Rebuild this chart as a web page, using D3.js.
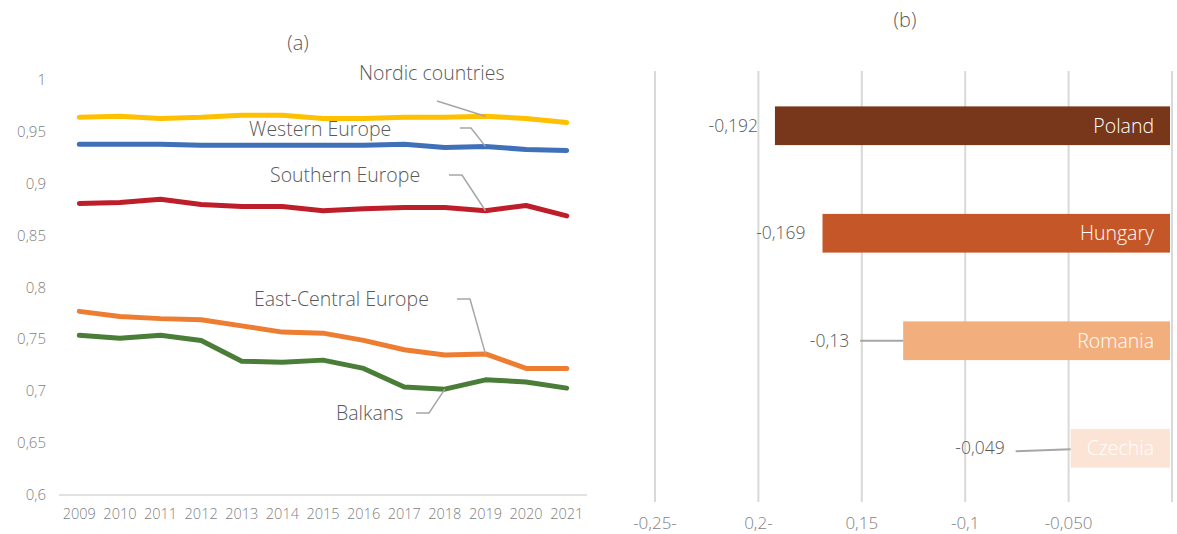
<!DOCTYPE html>
<html>
<head>
<meta charset="utf-8">
<script src="https://cdn.jsdelivr.net/npm/d3@7"></script>
<style>
body { margin: 0; background: #fff; }
text { font-family: "Open Sans", sans-serif; font-weight: 300; }
</style>
</head>
<body>
<div id="chart"></div>
<script>
// panel (a) data
var years = [2009, 2010, 2011, 2012, 2013, 2014, 2015, 2016, 2017, 2018, 2019, 2020, 2021];
var nordic = [0.964, 0.965, 0.963, 0.964, 0.966, 0.966, 0.963, 0.963, 0.964, 0.964, 0.965, 0.963, 0.959];
var western = [0.938, 0.938, 0.938, 0.937, 0.937, 0.937, 0.937, 0.937, 0.938, 0.935, 0.936, 0.933, 0.932];
var southern = [0.881, 0.882, 0.885, 0.880, 0.878, 0.878, 0.874, 0.876, 0.877, 0.877, 0.874, 0.879, 0.869];
var eastCentral = [0.777, 0.772, 0.770, 0.769, 0.763, 0.757, 0.756, 0.749, 0.740, 0.735, 0.736, 0.722, 0.722];
var balkans = [0.754, 0.751, 0.754, 0.749, 0.729, 0.728, 0.730, 0.722, 0.704, 0.702, 0.711, 0.709, 0.703];
var yTicks = [0.6, 0.65, 0.7, 0.75, 0.8, 0.85, 0.9, 0.95, 1];

// panel (b) data
var countries = ["Poland", "Hungary", "Romania", "Czechia"];
var changes = [-0.192, -0.169, -0.13, -0.049];
var changeLabels = ["-0,192", "-0,169", "-0,13", "-0,049"];
var xTickValues = [-0.25, -0.2, -0.15, -0.1, -0.05, 0];
var xTickLabels = ["-0,25-", "0,2-", "0,15", "-0,1", "-0,050", ""];

var width = 1177;
var height = 534;
var svg = d3.select("#chart").append("svg")
    .attr("width", width)
    .attr("height", height);

var comma = d3.formatLocale({decimal: ",", thousands: " ", grouping: [3], currency: ["", ""]}).format(".2~f");

// ---------- (a) line chart ----------
var x = d3.scalePoint().domain(years).range([59, 587]).padding(0.5);
var y = d3.scaleLinear().domain([0.6, 1]).range([495, 80]);

svg.append("text").text("(a)")
    .attr("x", 298).attr("y", 50)
    .attr("text-anchor", "middle")
    .style("font-size", "20px").attr("fill", "#595959");

svg.append("g").selectAll("text").data(yTicks).join("text")
    .attr("x", 46).attr("y", d => y(d) + 5)
    .attr("text-anchor", "end")
    .style("font-size", "15px").attr("fill", "#7f7f7f")
    .text(d => comma(d));

svg.append("line")
    .attr("x1", 59).attr("x2", 587)
    .attr("y1", y(0.6)).attr("y2", y(0.6))
    .attr("stroke", "#d9d9d9").attr("stroke-width", 1.5);

svg.append("g").selectAll("text").data(years).join("text")
    .attr("x", d => x(d)).attr("y", 519)
    .attr("text-anchor", "middle")
    .style("font-size", "14.5px").attr("fill", "#7f7f7f")
    .text(d => d);

var series = [
    {name: "Nordic countries", values: nordic, color: "#ffc000"},
    {name: "Western Europe", values: western, color: "#4070b8"},
    {name: "Southern Europe", values: southern, color: "#be1e2a"},
    {name: "East-Central Europe", values: eastCentral, color: "#ed7d31"},
    {name: "Balkans", values: balkans, color: "#4a7d37"}
];

var line = d3.line()
    .x((d, i) => x(years[i]))
    .y(d => y(d));

svg.append("g").selectAll("path").data(series).join("path")
    .attr("d", d => line(d.values))
    .attr("fill", "none")
    .attr("stroke", d => d.color)
    .attr("stroke-width", 5)
    .attr("stroke-linejoin", "round")
    .attr("stroke-linecap", "round");

// label layout: text position, leader start, elbow, anchor year
var labelLayout = [
    {s: 0, tx: 359, ty: 80, lx: 437, ly: 101, ex: null, year: 2019},
    {s: 1, tx: 249, ty: 136, lx: 460, ly: 128, ex: 471, year: 2019},
    {s: 2, tx: 270, ty: 182, lx: 449, ly: 175, ex: 462, year: 2019},
    {s: 3, tx: 254, ty: 306, lx: 457, ly: 299, ex: 470, year: 2019},
    {s: 4, tx: 336, ty: 420, lx: 416, ly: 413, ex: 429, year: 2018}
];

labelLayout.forEach(function(l) {
    var sr = series[l.s];
    var px = x(l.year);
    var py = y(sr.values[years.indexOf(l.year)]);
    var pts = l.ex === null ? [[l.lx, l.ly], [px, py]] : [[l.lx, l.ly], [l.ex, l.ly], [px, py]];
    svg.append("path")
        .attr("d", d3.line()(pts))
        .attr("fill", "none")
        .attr("stroke", "#a6a6a6")
        .attr("stroke-width", 1.5);
    svg.append("text").text(sr.name)
        .attr("x", l.tx).attr("y", l.ty)
        .attr("textLength", null)
        .style("font-size", "19.5px").attr("fill", "#595959");
});

// ---------- (b) bar chart ----------
var xb = d3.scaleLinear().domain([-0.25, 0]).range([655, 1172]);
var yb = d3.scaleBand().domain(countries).range([72, 502]).paddingInner(0.64).paddingOuter(0.32);
var barColors = ["#78361a", "#c55627", "#f3ae7e", "#fbe3d5"];

svg.append("text").text("(b)")
    .attr("x", 905).attr("y", 27)
    .attr("text-anchor", "middle")
    .style("font-size", "20px").attr("fill", "#595959");

svg.append("g").selectAll("line").data(xTickValues).join("line")
    .attr("x1", d => xb(d)).attr("x2", d => xb(d))
    .attr("y1", 71).attr("y2", 502)
    .attr("stroke", "#d9d9d9").attr("stroke-width", 2);

svg.append("g").selectAll("text").data(xTickValues).join("text")
    .attr("x", d => xb(d)).attr("y", 529)
    .attr("text-anchor", "middle")
    .style("font-size", "17px").attr("fill", "#7f7f7f")
    .text((d, i) => xTickLabels[i]);

svg.append("g").selectAll("rect").data(countries).join("rect")
    .attr("x", (d, i) => xb(changes[i]))
    .attr("y", d => yb(d))
    .attr("width", (d, i) => xb(0) - xb(changes[i]) - 2)
    .attr("height", yb.bandwidth())
    .attr("fill", (d, i) => barColors[i]);

svg.append("g").selectAll("text").data(countries).join("text")
    .attr("x", xb(0) - 18)
    .attr("y", d => yb(d) + yb.bandwidth() / 2 + 7)
    .attr("text-anchor", "end")
    .style("font-size", "19.5px").attr("fill", "#ffffff")
    .text(d => d);

// value labels: gap to bar and whether a leader line is drawn
var valueGap = [17, 17, 54, 66];
var hasLeader = [false, false, true, true];

countries.forEach(function(c, i) {
    var bx = xb(changes[i]);
    var cy = yb(c) + yb.bandwidth() / 2;
    var lx = bx - valueGap[i];
    svg.append("text").text(changeLabels[i])
        .attr("x", lx).attr("y", cy + 6)
        .attr("text-anchor", "end")
        .style("font-size", "17.5px").attr("fill", "#595959");
    if (hasLeader[i]) {
        svg.append("line")
            .attr("x1", lx + 11).attr("y1", cy + (i === 3 ? 3 : 0))
            .attr("x2", bx).attr("y2", cy + (i === 3 ? 1 : 0))
            .attr("stroke", "#a6a6a6").attr("stroke-width", 2);
    }
});
</script>
</body>
</html>
